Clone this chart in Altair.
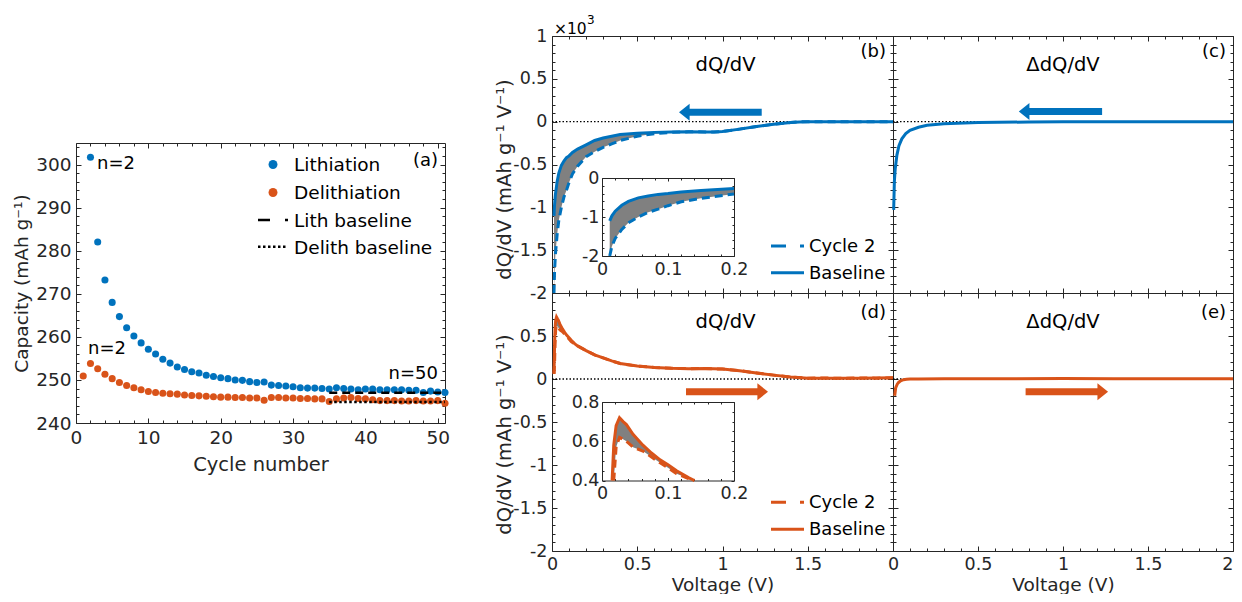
import altair as alt
import pandas as pd

BLUE, ORANGE, GRAY, INK = "#0072BD", "#D95319", "#808080", "#262626"
FONT = "DejaVu Sans"

# ---------------- (a) capacity vs cycle number ----------------
LITH_CYCLE = list(range(2, 52))
LITH_CAP = [301.7, 282.0, 273.2, 268.0, 264.7, 262.1, 260.2, 258.6, 257.1, 256.0,
            254.8, 253.9, 253.0, 252.4, 251.9, 251.6, 251.1, 250.8, 250.5, 250.3,
            250.0, 249.9, 249.6, 249.4, 249.5, 248.8, 248.7, 248.6, 248.4, 248.2,
            248.1, 248.1, 248.0, 247.9, 248.2, 248.0, 247.9, 247.7, 247.9, 247.9,
            247.7, 247.7, 247.7, 247.7, 247.6, 247.6, 247.1, 247.4, 247.2, 247.1]
DELITH_CYCLE = list(range(1, 52))
DELITH_CAP = [250.9, 253.8, 252.6, 251.3, 250.3, 249.4, 248.7, 248.2, 247.7, 247.3,
              247.1, 246.9, 246.8, 246.7, 246.5, 246.4, 246.3, 246.2, 246.1, 246.0,
              246.0, 245.9, 245.9, 245.8, 245.8, 245.3, 245.9, 245.9, 245.8, 245.8,
              245.7, 245.7, 245.6, 245.6, 245.0, 245.6, 245.8, 245.9, 245.7, 245.6,
              245.4, 245.2, 245.2, 245.2, 245.1, 245.1, 245.2, 245.1, 245.1, 245.2,
              244.6]
BASE_CYCLE = [35, 51]
LITH_BASE = [247.0, 247.0]
DELITH_BASE = [244.9, 244.9]

# ---------------- (b) lithiation dQ/dV (x10^3 mAh g-1 V-1) ----------------
V_LITH = [0.0117, 0.015, 0.02, 0.03, 0.04, 0.055, 0.07, 0.085, 0.1, 0.12, 0.15, 0.2,
          0.25, 0.3, 0.35, 0.4, 0.5, 0.6, 0.7, 0.8, 0.9, 0.95, 1.0, 1.1, 1.2, 1.3,
          1.4, 1.45, 1.5, 1.6, 1.8, 2.0]
LITH_BASELINE = [-1.10, -0.97, -0.85, -0.70, -0.60, -0.51, -0.46, -0.42, -0.40, -0.36,
                 -0.32, -0.27, -0.22, -0.19, -0.17, -0.15, -0.135, -0.125, -0.12, -0.117,
                 -0.12, -0.122, -0.115, -0.087, -0.057, -0.03, -0.01, -0.003, 0.0, 0.0,
                 0.0, 0.0]
LITH_CYCLE2 = [-2.00, -1.75, -1.55, -1.32, -1.15, -1.00, -0.88, -0.80, -0.71, -0.61,
               -0.52, -0.41, -0.35, -0.30, -0.26, -0.22, -0.17, -0.14, -0.125, -0.118,
               -0.12, -0.122, -0.115, -0.087, -0.057, -0.03, -0.01, -0.003, 0.0, 0.0,
               0.0, 0.0]
# ---------------- (c) lithiation delta dQ/dV ----------------
V_LITH_DIFF = [0.004, 0.008, 0.013, 0.023, 0.035, 0.052, 0.075, 0.1, 0.15, 0.2, 0.3,
               0.5, 0.8, 1.0, 1.5, 2.0]
LITH_DIFF = [-1.03, -0.70, -0.55, -0.39, -0.28, -0.20, -0.14, -0.10, -0.065, -0.043,
             -0.025, -0.01, -0.004, -0.002, 0.0, 0.0]
# ---------------- (d) delithiation dQ/dV ----------------
V_DELITH = [0.0117, 0.0153, 0.0178, 0.0214, 0.0265, 0.032, 0.037, 0.047, 0.062, 0.075,
            0.088, 0.1, 0.113, 0.131, 0.14, 0.15, 0.2, 0.25, 0.3, 0.35, 0.4, 0.5, 0.6,
            0.7, 0.8, 0.9, 1.0, 1.1, 1.2, 1.3, 1.4, 1.5, 1.6, 1.7, 1.8, 1.9, 2.0]
DELITH_BASELINE = [0.06, 0.40, 0.58, 0.68, 0.72, 0.70, 0.685, 0.635, 0.58, 0.54, 0.505,
                   0.48, 0.45, 0.415, 0.40, 0.385, 0.33, 0.28, 0.245, 0.21, 0.18, 0.15,
                   0.135, 0.125, 0.12, 0.122, 0.115, 0.097, 0.07, 0.045, 0.022, 0.01,
                   0.008, 0.01, 0.01, 0.012, 0.015]
DELITH_CYCLE2 = [0.06, 0.20, 0.40, 0.57, 0.62, 0.61, 0.60, 0.57, 0.55, 0.52, 0.49,
                 0.465, 0.435, 0.41, 0.40, 0.385, 0.33, 0.28, 0.245, 0.21, 0.18, 0.15,
                 0.135, 0.125, 0.12, 0.122, 0.115, 0.097, 0.07, 0.045, 0.022, 0.01,
                 0.012, 0.008, 0.012, 0.01, 0.015]
# ---------------- (e) delithiation delta dQ/dV ----------------
V_DELITH_DIFF = [0.01, 0.016, 0.025, 0.033, 0.045, 0.062, 0.08, 0.1, 0.15, 0.3, 0.6,
                 1.0, 1.3, 1.6, 2.0]
DELITH_DIFF = [-0.195, -0.10, -0.06, -0.04, -0.022, -0.008, -0.003, 0.0, 0.0, 0.002,
               0.003, 0.005, 0.004, 0.003, 0.003]
ZERO_V = [0, 2]
ZERO_VAL = [0, 0]
# arrows: tail, tip, level
ARROW_B = [1.23, 0.745, 0.11]
ARROW_C = [1.23, 0.74, 0.12]
ARROW_D = [0.786, 1.267, -0.148]
ARROW_E = [0.78, 1.265, -0.148]

# ---------------- layout (pixels inside the single view) ----------------
W, H = 1157, 515
FMT = "datum.value + ''"
ONE = pd.DataFrame({"k": [0]})


def lin(domain, rng):
    return alt.Scale(domain=domain, range=rng, nice=False, zero=False)


def axis_chart(df, ch, field, scale, **kw):
    kw.setdefault("title", None)
    axis = alt.Axis(**kw)
    if ch == "x":
        enc = dict(x=alt.X(field, type="quantitative", scale=scale, axis=axis), y=alt.value(0))
    else:
        enc = dict(y=alt.Y(field, type="quantitative", scale=scale, axis=axis), x=alt.value(0))
    return alt.Chart(df).mark_point(opacity=0).encode(**enc)


def frame(df, xf, yf, xs, ys, box, xt, yt, tsz, xlab=None, ylab=None, lab_size=17.5,
          xpad=4, ypad=5, xtitle=None, ytitle=None):
    x0, x1, y0, y1 = box
    xmaj, xmin = xt
    ymaj, ymin = yt
    tmaj, tmin = tsz
    L = []

    def add(ch, field, scale, **kw):
        L.append(axis_chart(df, ch, field, scale, **kw))

    kw = dict(orient="bottom", offset=y1 - H, ticks=False, tickSize=0, values=xlab or xmaj,
              labels=bool(xlab), labelExpr=FMT, labelPadding=xpad, labelFontSize=lab_size)
    if xtitle:
        kw.update(xtitle)
    add("x", xf, xs, **kw)
    add("x", xf, xs, orient="bottom", offset=y1 - tmaj - H, domain=False, labels=False,
        tickSize=tmaj, values=xmaj)
    add("x", xf, xs, orient="bottom", offset=y1 - tmin - H, domain=False, labels=False,
        tickSize=tmin, values=xmin)
    add("x", xf, xs, orient="top", offset=-y0, ticks=False, tickSize=0, labels=False, values=xmaj)
    add("x", xf, xs, orient="top", offset=-(y0 + tmaj), domain=False, labels=False,
        tickSize=tmaj, values=xmaj)
    add("x", xf, xs, orient="top", offset=-(y0 + tmin), domain=False, labels=False,
        tickSize=tmin, values=xmin)
    kw = dict(orient="left", offset=-x0, ticks=False, tickSize=0, values=ylab or ymaj,
              labels=bool(ylab), labelExpr=FMT, labelPadding=ypad, labelFontSize=lab_size)
    if ytitle:
        kw.update(ytitle)
    add("y", yf, ys, **kw)
    add("y", yf, ys, orient="left", offset=-(x0 + tmaj), domain=False, labels=False,
        tickSize=tmaj, values=ymaj)
    add("y", yf, ys, orient="left", offset=-(x0 + tmin), domain=False, labels=False,
        tickSize=tmin, values=ymin)
    add("y", yf, ys, orient="right", offset=x1 - W, ticks=False, tickSize=0, labels=False, values=ymaj)
    add("y", yf, ys, orient="right", offset=x1 - tmaj - W, domain=False, labels=False,
        tickSize=tmaj, values=ymaj)
    add("y", yf, ys, orient="right", offset=x1 - tmin - W, domain=False, labels=False,
        tickSize=tmin, values=ymin)
    return L


def label(text, x, y, size, align="left", color="black"):
    return alt.Chart(ONE).mark_text(text=text, align=align, baseline="middle", fontSize=size,
                                    color=color, font=FONT).encode(x=alt.value(x), y=alt.value(y))


def sym_rule(x0, x1, y, color, width, dash=None):
    kw = dict(color=color, strokeWidth=width)
    if dash:
        kw["strokeDash"] = dash
    return alt.Chart(ONE).mark_rule(**kw).encode(x=alt.value(x0), x2=alt.value(x1), y=alt.value(y))


def sym_point(x, y, color, size):
    return alt.Chart(ONE).mark_point(filled=True, opacity=1, size=size, color=color).encode(
        x=alt.value(x), y=alt.value(y))


def arrow(spec, xs, ys, color):
    tail, tip, level = spec
    d = 1 if tail > tip else -1
    df = pd.DataFrame({"tail": [tail], "end": [tip + 0.05 * d], "tip": [tip], "level": [level]})
    shaft = alt.Chart(df).mark_rule(color=color, strokeWidth=7, strokeCap="butt").encode(
        x=alt.X("tail:Q", scale=xs, axis=None), x2="end:Q",
        y=alt.Y("level:Q", scale=ys, axis=None))
    path = "M0,0L1.25,-1L1.25,1Z" if d > 0 else "M0,0L-1.25,-1L-1.25,1Z"
    head = alt.Chart(df).mark_point(shape=path, filled=True, opacity=1, size=289, color=color).encode(
        x=alt.X("tip:Q", scale=xs, axis=None), y=alt.Y("level:Q", scale=ys, axis=None))
    return [shaft, head]


def curve(df, xf, yf, xs, ys, color, width=3, dash=None):
    kw = dict(color=color, strokeWidth=width)
    if dash:
        kw["strokeDash"] = dash
    return alt.Chart(df).mark_line(**kw).encode(
        x=alt.X(xf, type="quantitative", scale=xs, axis=None),
        y=alt.Y(yf, type="quantitative", scale=ys, axis=None))


def band(df, xs, ys):
    return alt.Chart(df).mark_area(color=GRAY, opacity=1).encode(
        x=alt.X("V:Q", scale=xs, axis=None), y=alt.Y("cyc2:Q", scale=ys, axis=None), y2="base:Q")


def panel(layers):
    return alt.layer(*layers).resolve_axis(x="independent", y="independent")


def tenths(lo, hi, step, major_every):
    n = int(round((hi - lo) / step))
    return [round(lo + i * step, 3) for i in range(n + 1) if i % major_every]


# ---------------- panel (a) ----------------
df_al = pd.DataFrame({"cycle": LITH_CYCLE, "cap": LITH_CAP})
df_ad = pd.DataFrame({"cycle": DELITH_CYCLE, "cap": DELITH_CAP})
df_ab = pd.DataFrame({"cycle": BASE_CYCLE, "lith": LITH_BASE, "delith": DELITH_BASE})
xs_a = lin([0, 51], [0, 369])
ys_a = lin([240, 305], [387, 107])
A_XMAJ = [0, 10, 20, 30, 40, 50]
A_YMAJ = [240, 250, 260, 270, 280, 290, 300]
a_layers = frame(df_ad, "cycle", "cap", xs_a, ys_a, (0, 369, 107, 387),
                 (A_XMAJ, [v for v in range(2, 51, 2) if v % 10]),
                 (A_YMAJ, [v for v in range(242, 305, 2) if v % 10]), (5, 3),
                 xlab=A_XMAJ, ylab=A_YMAJ, lab_size=18.5, xpad=5, ypad=5,
                 xtitle=dict(title="Cycle number", titleFontSize=19.5, titleX=184.5, titleY=41,
                             titleBaseline="middle", titleAlign="center", titleAngle=0),
                 ytitle=dict(title="Capacity (mAh g\u207b\u00b9)", titleFontSize=18.5, titleX=-55,
                             titleY=247, titleBaseline="middle", titleAlign="center", titleAngle=270))
a_layers += [
    alt.Chart(df_al).mark_point(filled=True, opacity=1, size=50, color=BLUE).encode(
        x=alt.X("cycle:Q", scale=xs_a, axis=None), y=alt.Y("cap:Q", scale=ys_a, axis=None)),
    alt.Chart(df_ad).mark_point(filled=True, opacity=1, size=50, color=ORANGE).encode(
        x=alt.X("cycle:Q", scale=xs_a, axis=None), y=alt.Y("cap:Q", scale=ys_a, axis=None)),
    curve(df_ab, "cycle", "lith", xs_a, ys_a, "black", 2.5, [8, 5]),
    curve(df_ab, "cycle", "delith", xs_a, ys_a, "black", 2.5, [2.5, 2.5]),
    label("n=2", 21, 128, 18),
    label("n=2", 12, 313, 18),
    label("n=50", 362, 338, 18, "right"),
    label("(a)", 362, 125, 18, "right"),
    sym_point(197, 128.5, BLUE, 80),
    sym_point(197, 156.5, ORANGE, 80),
    sym_rule(182, 212, 184, "black", 2.5, [12, 15]),
    sym_rule(182, 212, 210.7, "black", 2.5, [2.5, 2.5]),
    label("Lithiation", 218, 129, 18.5),
    label("Delithiation", 218, 157, 18.5),
    label("Lith baseline", 218, 184.5, 18.5),
    label("Delith baseline", 218, 212, 18.5),
]
panel_a = panel(a_layers)

# ---------------- right block ----------------
R_XMAJ = [0, 0.5, 1, 1.5, 2]
R_XMIN = tenths(0, 2, 0.1, 5)
R_YMAJ = [-2, -1.5, -1, -0.5, 0, 0.5, 1]
R_YMIN = tenths(-2, 1, 0.1, 5)
Y_TITLE = "dQ/dV (mAh g\u207b\u00b9 V\u207b\u00b9)"
BX0, BX1, CX1 = 476, 817, 1157
TOP, MID, BOT = 0, 257, 515

df_b = pd.DataFrame({"V": V_LITH, "base": LITH_BASELINE, "cyc2": LITH_CYCLE2})
df_c = pd.DataFrame({"V": V_LITH_DIFF, "diff": LITH_DIFF})
df_d = pd.DataFrame({"V": V_DELITH, "base": DELITH_BASELINE, "cyc2": DELITH_CYCLE2})
df_e = pd.DataFrame({"V": V_DELITH_DIFF, "diff": DELITH_DIFF})
df_z = pd.DataFrame({"V": ZERO_V, "val": ZERO_VAL})

xs_b, ys_b = lin([0, 2], [BX0, BX1]), lin([-2, 1], [MID, TOP])
xs_c, ys_c = lin([0, 2], [BX1, CX1]), lin([-2, 1], [MID, TOP])
xs_d, ys_d = lin([0, 2], [BX0, BX1]), lin([-2, 1], [BOT, MID])
xs_e, ys_e = lin([0, 2], [BX1, CX1]), lin([-2, 1], [BOT, MID])
XC_L = (BX0 + BX1) / 2
XC_R = (BX1 + CX1) / 2

b_layers = frame(df_b, "V", "base", xs_b, ys_b, (BX0, BX1, TOP, MID), (R_XMAJ, R_XMIN),
                 (R_YMAJ, R_YMIN), (5, 3), ylab=R_YMAJ,
                 ytitle=dict(title=Y_TITLE, titleFontSize=19.5, titleX=-48, titleY=143,
                             titleBaseline="middle", titleAlign="center", titleAngle=270))
b_layers += [curve(df_z, "V", "val", xs_b, ys_b, "black", 1.3, [1.5, 2]),
             band(df_b, xs_b, ys_b),
             curve(df_b, "V", "cyc2", xs_b, ys_b, BLUE, 3, [8, 5]),
             curve(df_b, "V", "base", xs_b, ys_b, BLUE, 3)]
b_layers += arrow(ARROW_B, xs_b, ys_b, BLUE)
b_layers += [label("dQ/dV", XC_L + 3, 29, 19.5, "center"),
             label("(b)", BX1 - 7, 16, 18, "right"),
             label("\u00d710", BX0 + 2, -7, 15.5),
             label("3", BX0 + 35, -16, 12),
             sym_rule(695, 728, 210, BLUE, 3, [15, 14]),
             sym_rule(695, 728, 236.7, BLUE, 3),
             label("Cycle 2", 733, 211, 18),
             label("Baseline", 733, 237.5, 18)]
panel_b = panel(b_layers)

c_layers = frame(df_c, "V", "diff", xs_c, ys_c, (BX1, CX1, TOP, MID), (R_XMAJ, R_XMIN),
                 (R_YMAJ, R_YMIN), (5, 3))
c_layers += [curve(df_z, "V", "val", xs_c, ys_c, "black", 1.3, [1.5, 2]),
             curve(df_c, "V", "diff", xs_c, ys_c, BLUE, 3)]
c_layers += arrow(ARROW_C, xs_c, ys_c, BLUE)
c_layers += [label("\u0394dQ/dV", XC_R, 29, 19.5, "center"),
             label("(c)", CX1 - 7, 16, 18, "right")]
panel_c = panel(c_layers)

d_layers = frame(df_d, "V", "base", xs_d, ys_d, (BX0, BX1, MID, BOT), (R_XMAJ, R_XMIN),
                 (R_YMAJ, R_YMIN), (5, 3), xlab=[0, 0.5, 1, 1.5],
                 ylab=[-2, -1.5, -1, -0.5, 0, 0.5],
                 xtitle=dict(title="Voltage (V)", titleFontSize=18.5, titleX=XC_L, titleY=33,
                             titleBaseline="middle", titleAlign="center", titleAngle=0),
                 ytitle=dict(title=Y_TITLE, titleFontSize=19.5, titleX=-48, titleY=398,
                             titleBaseline="middle", titleAlign="center", titleAngle=270))
d_layers += [curve(df_z, "V", "val", xs_d, ys_d, "black", 1.3, [1.5, 2]),
             band(df_d, xs_d, ys_d),
             curve(df_d, "V", "cyc2", xs_d, ys_d, ORANGE, 3, [8, 5]),
             curve(df_d, "V", "base", xs_d, ys_d, ORANGE, 3)]
d_layers += arrow(ARROW_D, xs_d, ys_d, ORANGE)
d_layers += [label("dQ/dV", XC_L + 3, 286, 19.5, "center"),
             label("(d)", BX1 - 7, 276.5, 18, "right"),
             sym_rule(695, 728, 466.3, ORANGE, 3, [15, 14]),
             sym_rule(695, 728, 493.3, ORANGE, 3),
             label("Cycle 2", 733, 467, 18),
             label("Baseline", 733, 494, 18)]
panel_d = panel(d_layers)

e_layers = frame(df_e, "V", "diff", xs_e, ys_e, (BX1, CX1, MID, BOT), (R_XMAJ, R_XMIN),
                 (R_YMAJ, R_YMIN), (5, 3), xlab=R_XMAJ,
                 xtitle=dict(title="Voltage (V)", titleFontSize=18.5, titleX=XC_R, titleY=33,
                             titleBaseline="middle", titleAlign="center", titleAngle=0,
                             labelAlign={"condition": {"test": "datum.value == 2", "value": "right"},
                                         "value": "center"}))
e_layers += [curve(df_z, "V", "val", xs_e, ys_e, "black", 1.3, [1.5, 2]),
             curve(df_e, "V", "diff", xs_e, ys_e, ORANGE, 3)]
e_layers += arrow(ARROW_E, xs_e, ys_e, ORANGE)
e_layers += [label("\u0394dQ/dV", XC_R, 286, 19.5, "center"),
             label("(e)", CX1 - 7, 276.5, 18, "right")]
panel_e = panel(e_layers)

# ---------------- insets ----------------
I_XMAJ = [0, 0.1, 0.2]
I_XMIN = tenths(0, 0.2, 0.02, 5)
IX0, IX1 = 526, 658
df_ib = df_b[df_b["V"] <= 0.2]
xs_ib, ys_ib = lin([0, 0.2], [IX0, IX1]), lin([-2, 0], [220, 142])
ib_layers = frame(df_ib, "V", "base", xs_ib, ys_ib, (IX0, IX1, 142, 220), (I_XMAJ, I_XMIN),
                  ([-2, -1, 0], tenths(-2, 0, 0.2, 5)), (3, 2), xlab=I_XMAJ, ylab=[-2, -1, 0],
                  xpad=4, ypad=3)
ib_layers += [band(df_ib, xs_ib, ys_ib),
              curve(df_ib, "V", "cyc2", xs_ib, ys_ib, BLUE, 3, [8, 5]),
              curve(df_ib, "V", "base", xs_ib, ys_ib, BLUE, 3)]
inset_b = panel(ib_layers)

df_id_base = df_d[(df_d["V"] >= 0.0153) & (df_d["V"] <= 0.14)]
df_id_c2 = df_d[(df_d["V"] >= 0.0178) & (df_d["V"] <= 0.14)]
xs_id, ys_id = lin([0, 0.2], [IX0, IX1]), lin([0.4, 0.8], [444.5, 366])
id_layers = frame(df_id_base, "V", "base", xs_id, ys_id, (IX0, IX1, 366, 444.5), (I_XMAJ, I_XMIN),
                  ([0.4, 0.6, 0.8], [0.45, 0.5, 0.55, 0.65, 0.7, 0.75]), (3, 2), xlab=I_XMAJ,
                  ylab=[0.4, 0.6, 0.8], xpad=4, ypad=3)
id_layers += [band(df_id_c2, xs_id, ys_id),
              curve(df_id_c2, "V", "cyc2", xs_id, ys_id, ORANGE, 3, [8, 5]),
              curve(df_id_base, "V", "base", xs_id, ys_id, ORANGE, 3)]
inset_d = panel(id_layers)

# svg: 68 + 1157 + 1 = 1226 wide, 28 + 515 + 43 = 586 high -> fits the 1242x602 page
chart = alt.layer(panel_a, panel_b, panel_c, panel_d, panel_e, inset_b, inset_d).resolve_scale(
    x="independent", y="independent").resolve_axis(x="independent", y="independent").properties(
    width=W, height=H, autosize=alt.AutoSizeParams(type="none"),
    padding={"left": 68, "top": 28, "right": 1, "bottom": 43}
).configure(font=FONT).configure_view(strokeOpacity=0).configure_axis(
    labelFont=FONT, titleFont=FONT, labelColor=INK, titleColor=INK, tickColor=INK,
    domainColor=INK, tickWidth=1, domainWidth=1, grid=False, titleFontWeight="normal",
    labelFlush=False, labelOverlap=False, labelFontSize=17.5, titleFontSize=18)

chart.save("out.html", embed_options={"renderer": "svg", "actions": False})
